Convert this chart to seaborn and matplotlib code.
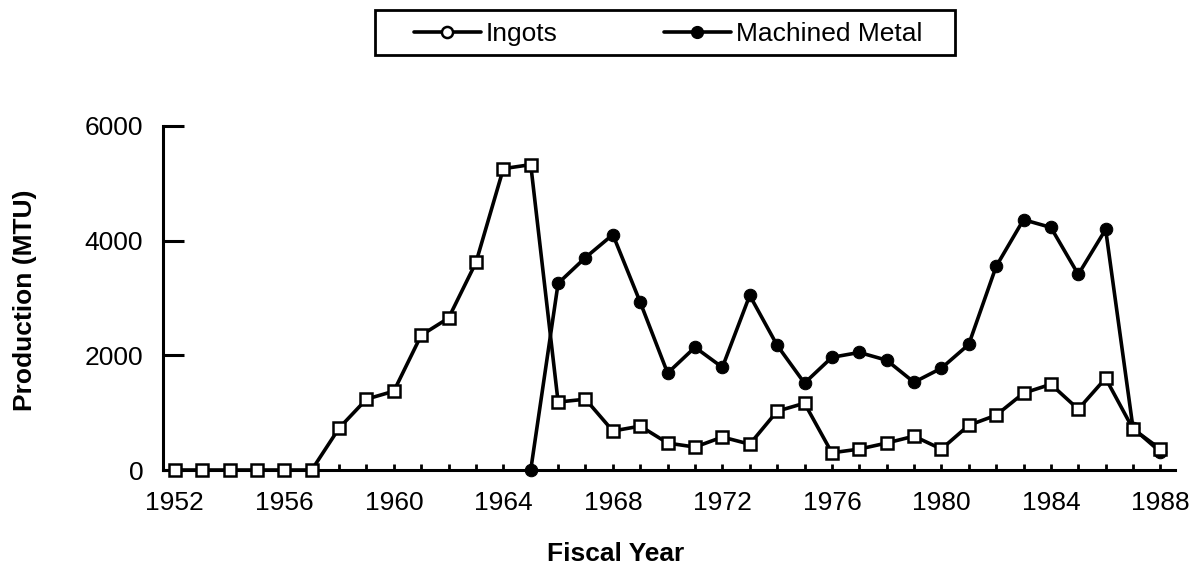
import matplotlib
matplotlib.use("Agg")
import matplotlib.pyplot as plt
from matplotlib.lines import Line2D
from matplotlib.patches import Rectangle
from matplotlib.ticker import MultipleLocator
import seaborn as sns
import pandas as pd

# Production data (MTU)
ingot_years = list(range(1952, 1989))
ingot_values = [0, 0, 0, 0, 0, 0, 730, 1235, 1375, 2350, 2650, 3620, 5255, 5325,
                1185, 1235, 680, 765, 470, 400, 575, 450, 1025, 1165,
                300, 365, 470, 590, 365, 780, 955, 1340, 1495, 1060, 1600, 715, 365]

machined_years = list(range(1965, 1989))
machined_values = [0, 3255, 3705, 4105, 2925, 1690, 2140, 1790, 3045, 2175, 1515,
                   1965, 2050, 1915, 1530, 1775, 2190, 3550, 4365, 4230, 3410, 4195, 730, 315]

x_ticks = list(range(1952, 1989, 4))
y_ticks = [0, 2000, 4000, 6000]

ingots = pd.DataFrame({"year": ingot_years, "value": ingot_values})
machined = pd.DataFrame({"year": machined_years, "value": machined_values})

sns.set_style("ticks")
plt.rcParams["font.family"] = ["Liberation Sans", "DejaVu Sans"]
plt.rcParams.update({"text.color": "black", "axes.labelcolor": "black",
                     "xtick.color": "black", "ytick.color": "black",
                     "axes.edgecolor": "black"})

fig = plt.figure(figsize=(11.97, 5.75), dpi=100)
ax = fig.add_axes([0.136, 0.1826, 0.846, 0.5984])

sns.lineplot(data=machined, x="year", y="value", ax=ax, color="black",
             linewidth=2.6, marker="o", markersize=9, markerfacecolor="black",
             markeredgecolor="black", clip_on=False, zorder=3)
sns.lineplot(data=ingots, x="year", y="value", ax=ax, color="black",
             linewidth=2.6, marker="s", markersize=8, markerfacecolor="white",
             markeredgecolor="black", markeredgewidth=1.8, clip_on=False, zorder=4)

ax.set_xlim(1951.56, 1988.55)
ax.set_ylim(0, 6000)
ax.set_xticks(x_ticks)
ax.xaxis.set_minor_locator(MultipleLocator(1))
ax.set_yticks(y_ticks)

for side in ["top", "right"]:
    ax.spines[side].set_visible(False)
for side in ["left", "bottom"]:
    ax.spines[side].set_linewidth(2.2)

ax.tick_params(axis="y", direction="in", length=15, width=2.2, labelsize=19, pad=14)
ax.tick_params(axis="x", which="both", direction="in", length=4, width=2,
               labelsize=19, pad=15)

ax.set_xlabel("Fiscal Year", fontsize=19, fontweight="bold")
ax.set_ylabel("Production (MTU)", fontsize=19, fontweight="bold")
ax.xaxis.set_label_coords(0.447, -0.21)
ax.yaxis.set_label_coords(-0.124, 0.494)

handles = [
    Line2D([], [], color="black", linewidth=2.6, marker="o", markersize=8,
           markerfacecolor="white", markeredgewidth=1.8),
    Line2D([], [], color="black", linewidth=2.6, marker="o", markersize=8.5,
           markerfacecolor="black"),
]
leg = fig.legend(handles, ["Ingots", "Machined Metal"], loc="center",
                 bbox_to_anchor=(668 / 1197, 1 - 34 / 575), ncol=2, fontsize=19,
                 frameon=False, handlelength=2.54, handletextpad=0.2,
                 columnspacing=4.0, borderpad=0)

# legend box drawn as a plain rectangle (wide horizontal padding)
fig.patches.append(Rectangle((375 / 1197, 1 - 55 / 575), 580 / 1197, 45 / 575,
                             transform=fig.transFigure, fill=False,
                             edgecolor="black", linewidth=2))

fig.savefig("out.png", dpi=100)
